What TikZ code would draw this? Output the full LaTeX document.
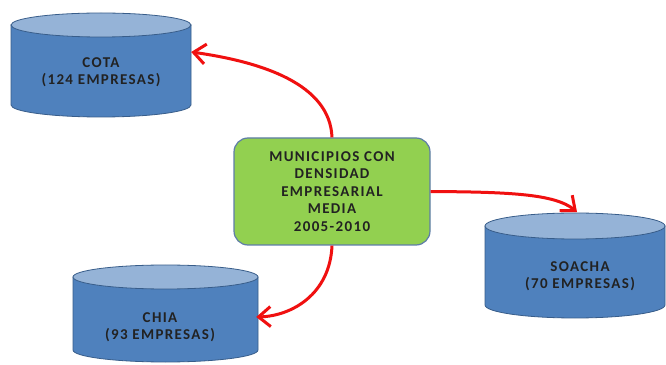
\documentclass[tikz,border=0pt]{standalone}
\usepackage{fontspec}
\setmainfont{Carlito}[LetterSpace=9]
\usetikzlibrary{arrows.meta}
\definecolor{cylbody}{HTML}{4F81BD}
\definecolor{cyltop}{HTML}{95B3D7}
\definecolor{cylline}{HTML}{385D8A}
\definecolor{boxfill}{HTML}{92D050}
\definecolor{boxline}{HTML}{5E7DA8}
\definecolor{txt}{HTML}{222222}
\definecolor{arr}{HTML}{F01010}
\tikzset{
  lbl/.style={align=center, font=\fontsize{15}{17.5}\selectfont\bfseries, text=txt, inner sep=0pt},
  cylbox/.style={lbl, minimum width=#1, minimum height=10pt},
  mainbox/.style={lbl, draw=boxline, line width=1.2pt, fill=boxfill, rounded corners=14pt,
    minimum width=196pt, minimum height=107pt},
  link/.style={draw=arr, line width=3pt, -{Straight Barb[length=12pt,width=20pt,line width=3pt]}}
}
% \mycyl{L}{R}{Ytop}{Ybottom}{ry}
\newcommand{\mycyl}[5]{%
  \pgfmathsetmacro{\rxx}{((#2)-(#1))/2}%
  \pgfmathsetmacro{\cxx}{((#2)+(#1))/2}%
  \filldraw[fill=cylbody, draw=cylline, line width=0.8pt]
    (#1,#3) -- (#1,#4) arc[start angle=180, end angle=360, x radius=\rxx pt, y radius=#5pt] -- (#2,#3) -- cycle;
  \filldraw[fill=cyltop, draw=cylline, line width=0.8pt]
    (\cxx,#3) ellipse[x radius=\rxx pt, y radius=#5pt];
}
\begin{document}
\begin{tikzpicture}[x=1pt,y=1pt]
\useasboundingbox (0,0) rectangle (666,364);
\fill[white] (0,0) rectangle (666,364);
% cylinders
\mycyl{11}{191}{339}{259}{12}
\mycyl{73}{258}{87}{14}{12}
\mycyl{485}{665}{138}{59}{13}
% labels (named nodes spanning the cylinders' widths)
\node[cylbox=180pt] (cota) at (101,292) {COTA\\(124 EMPRESAS)};
\node[cylbox=185pt] (chia) at (160,37) {CHIA\\(93 EMPRESAS)};
\node[cylbox=180pt] (soacha) at (580,88) {SOACHA\\(70 EMPRESAS)};
% central box
\node[mainbox] (main) at (332,172.5) {MUNICIPIOS CON\\DENSIDAD\\EMPRESARIAL\\MEDIA\\2005-2010};
% connectors
\draw[link] (main.north) .. controls (330,280) and (262,302) .. ([yshift=20pt]cota.east);
\draw[link] (main.south) .. controls (330,70) and (292,48) .. ([xshift=3.5pt,yshift=10pt]chia.east);
\draw[link] (main.east) .. controls (510,172) and (555,170) .. ([xshift=-3pt,yshift=64pt]soacha.center);
\end{tikzpicture}
\end{document}
